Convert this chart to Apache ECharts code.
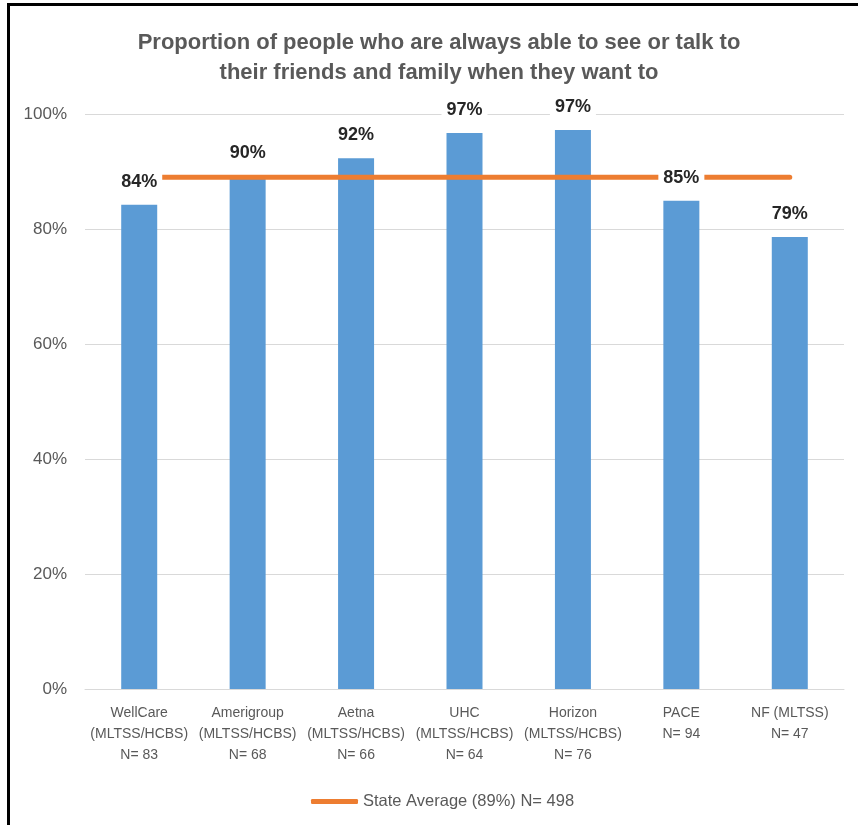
<!DOCTYPE html>
<html>
<head>
<meta charset="utf-8">
<script src="https://cdn.jsdelivr.net/npm/echarts@6/dist/echarts.min.js"></script>
<style>
html,body{margin:0;padding:0;background:#fff;}
#chart{width:858px;height:825px;position:absolute;left:0;top:0;}
#frame{position:absolute;left:7px;top:3px;width:900px;height:900px;border-left:3px solid #000;border-top:3px solid #000;pointer-events:none;}
</style>
</head>
<body>
<div id="chart"></div>
<div id="frame"></div>
<script>
var categories = [
  'WellCare\n(MLTSS/HCBS)\nN= 83',
  'Amerigroup\n(MLTSS/HCBS)\nN= 68',
  'Aetna\n(MLTSS/HCBS)\nN= 66',
  'UHC\n(MLTSS/HCBS)\nN= 64',
  'Horizon\n(MLTSS/HCBS)\nN= 76',
  'PACE\nN= 94',
  'NF (MLTSS)\nN= 47'
];
var planValues = [84.2, 89.2, 92.3, 96.7, 97.2, 84.9, 78.6];
var planLabels = ['84%', '90%', '92%', '97%', '97%', '85%', '79%'];
var stateAverage = [89, 89, 89, 89, 89, 89, 89];
var stateName = 'State Average (89%) N= 498';
var titleText = 'Proportion of people who are always able to see or talk to\ntheir friends and family when they want to';

var font = '"Liberation Sans", Arial, sans-serif';
var chart = echarts.init(document.getElementById('chart'), null, {renderer: 'canvas'});
chart.setOption({
  animation: false,
  backgroundColor: '#fff',
  graphic: [{
    type: 'text', x: 439, y: 58,
    style: {
      text: titleText, font: 'bold 22px ' + font, fill: '#595959',
      align: 'center', verticalAlign: 'middle', lineHeight: 30
    }
  }],
  grid: {left: 85, right: 14, top: 114, bottom: 136},
  legend: {
    data: [{name: stateName, icon: 'roundRect'}],
    left: 306, top: 788, itemWidth: 47, itemHeight: 5,
    textStyle: {fontFamily: font, fontSize: 16.5, color: '#595959'}
  },
  xAxis: {
    type: 'category', data: categories,
    axisLine: {lineStyle: {color: '#D9D9D9', width: 1}},
    axisTick: {show: false},
    axisLabel: {interval: 0, fontFamily: font, fontSize: 14, color: '#595959', lineHeight: 21, margin: 14}
  },
  yAxis: {
    type: 'value', min: 0, max: 100, interval: 20,
    axisLine: {show: false}, axisTick: {show: false},
    splitLine: {lineStyle: {color: '#D9D9D9', width: 1}},
    axisLabel: {formatter: '{value}%', fontFamily: font, fontSize: 17, color: '#595959', margin: 18}
  },
  series: [
    {
      type: 'bar', name: 'Plans', data: planValues, barWidth: 36, z: 2,
      itemStyle: {color: '#5B9BD5'}
    },
    {
      type: 'line', name: stateName, data: stateAverage, z: 3,
      symbol: 'none', lineStyle: {color: '#ED7D31', width: 5, cap: 'round'},
      itemStyle: {color: '#ED7D31'}
    },
    {
      type: 'bar', name: 'labels', data: planValues, barWidth: 36, barGap: '-100%', z: 4,
      itemStyle: {color: 'rgba(0,0,0,0)'},
      label: {
        show: true, position: 'top', distance: 12,
        formatter: function (p) { return planLabels[p.dataIndex]; },
        fontFamily: font, fontSize: 18, fontWeight: 'bold', color: '#262626',
        backgroundColor: '#fff', padding: [2, 5]
      }
    }
  ]
});
</script>
</body>
</html>
